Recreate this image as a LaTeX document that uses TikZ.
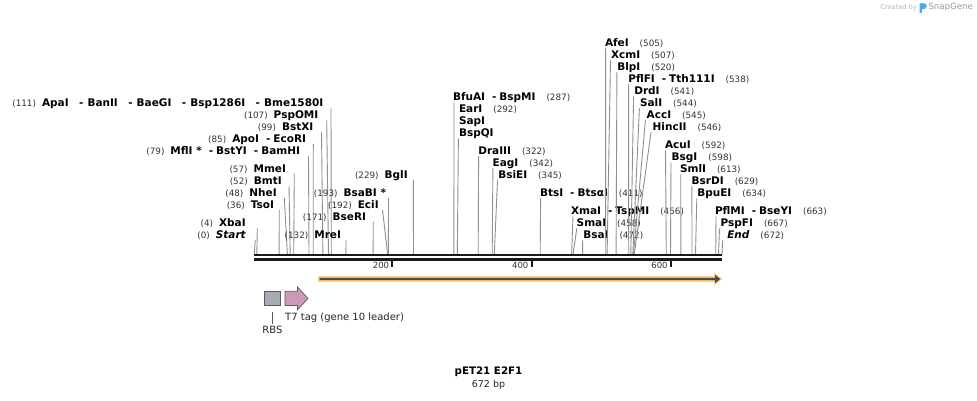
\documentclass[tikz,border=0pt]{standalone}
\usepackage{fontspec}
\setmainfont{DejaVu Sans}
\usetikzlibrary{arrows.meta}
\definecolor{numc}{HTML}{333333}
\definecolor{sitec}{HTML}{8F8F8F}
\definecolor{bbc}{HTML}{1A1A1A}
\definecolor{orfo}{HTML}{FAD17E}
\definecolor{orfd}{HTML}{4A4A4A}
\definecolor{rbsc}{HTML}{A6ABB1}
\definecolor{t7c}{HTML}{CC9AB8}
\definecolor{featline}{HTML}{5A5A5A}
\definecolor{wmgray}{HTML}{B4B4B4}
\definecolor{wmblue}{HTML}{45A8F0}

\newcommand{\nmf}{\fontsize{10.5}{12}\selectfont\bfseries}
\newcommand{\nuf}{\fontsize{8.8}{10}\selectfont\mdseries\color{numc}}
\newcommand{\Nm}[1]{{\nmf #1}}
\newcommand{\Nu}[1]{{\nuf #1}}
\newcommand{\Sp}{{\nmf\hspace{7pt}-\hspace{3pt}}}
\newcommand{\Sw}{{\nmf\hspace{10.5pt}-\hspace{4pt}}}
\newcommand{\Gp}{\hspace{11pt}}
\newcommand{\Gl}{\hspace{6pt}}

% id, y, x of text edge, x of line top, x of site, text
\newcommand{\LeftLab}[6]{%
  \node[lbl,anchor=east] (#1) at (#3,#2) {#6};
  \coordinate (#1-t) at (#4,{#2+5.5});
  \coordinate (#1-s) at (#5,254.5);
  \draw[siteline] (#1-t) -- (#1-s);
}
\newcommand{\RightLab}[6]{%
  \node[lbl,anchor=west] (#1) at (#3,#2) {#6};
  \coordinate (#1-t) at (#4,{#2+6});
  \coordinate (#1-s) at (#5,254.5);
  \draw[siteline] (#1-t) -- (#1-s);
}

\begin{document}
\begin{tikzpicture}[x=1pt,y=-1pt,
  lbl/.style={inner sep=0pt,outer sep=0pt,text height=7.6pt,text depth=0pt},
  siteline/.style={draw=sitec,line width=0.9pt},
  bbline/.style={draw=bbc,line width=2.4pt},
  tickmark/.style={draw=bbc,line width=2pt},
  ticklab/.style={inner sep=0pt,font=\fontsize{8.5}{10}\selectfont,text=numc},
  featlab/.style={inner sep=0pt,font=\fontsize{10}{12}\selectfont,text=black!85},
]
\fill[white] (0,0) rectangle (977,400);
\useasboundingbox (0,0) rectangle (977,400);

% backbone
\coordinate (bbL1) at (254,255);
\coordinate (bbR1) at (722,255);
\coordinate (bbL2) at (254,259.6);
\coordinate (bbR2) at (722,259.6);

% left-side labels
\LeftLab{apa}{102.3}{323.3}{331}{331.3}{\Nu{(111)}\Gl\Nm{ApaI}\Sw\Nm{BanII}\Sw\Nm{BaeGI}\Sw\Nm{Bsp1286I}\Sw\Nm{Bme1580I}}
\LeftLab{psp}{114.3}{318.3}{326.7}{328.5}{\Nu{(107)}\Gl\Nm{PspOMI}}
\LeftLab{bstx}{126.3}{313.3}{321.5}{322.9}{\Nu{(99)}\Gl\Nm{BstXI}}
\LeftLab{apo}{138.3}{306}{313.3}{313.2}{\Nu{(85)}\Gl\Nm{ApoI}\Sp\Nm{EcoRI}}
\LeftLab{mfl}{150.3}{300}{308.5}{309.0}{\Nu{(79)}\Gl\Nm{MflI *}\Sp\Nm{BstYI}\Sp\Nm{BamHI}}
\LeftLab{mme}{168.3}{286}{294.3}{293.7}{\Nu{(57)}\Gl\Nm{MmeI}}
\LeftLab{bmt}{180.3}{281.7}{289}{290.2}{\Nu{(52)}\Gl\Nm{BmtI}}
\LeftLab{nhe}{192.3}{276.7}{284.3}{287.4}{\Nu{(48)}\Gl\Nm{NheI}}
\LeftLab{tso}{204.3}{274}{279.3}{279.1}{\Nu{(36)}\Gl\Nm{TsoI}}
\LeftLab{xba}{222.3}{245.7}{257.3}{256.8}{\Nu{(4)}\Gl\Nm{XbaI}}
\LeftLab{start}{234.3}{245.7}{255.3}{254.2}{\Nu{(0)}\Gl\Nm{\itshape Start}}
\LeftLab{mre}{234.3}{341}{346}{345.9}{\Nu{(132)}\Gl\Nm{MreI}}
\LeftLab{bser}{216.3}{366}{373.3}{373.1}{\Nu{(171)}\Gl\Nm{BseRI}}
\LeftLab{eci}{204.3}{378.7}{382.5}{387.7}{\Nu{(192)}\Gl\Nm{EciI}}
\LeftLab{bsab}{192.3}{386}{388.5}{388.4}{\Nu{(193)}\Gl\Nm{BsaBI *}}
\LeftLab{bgl}{174.3}{407.7}{413.3}{413.5}{\Nu{(229)}\Gl\Nm{BglI}}

% right-side labels
\RightLab{bfu}{96.3}{453}{454}{453.9}{\Nm{BfuAI}\Sp\Nm{BspMI}\Gp\Nu{(287)}}
\node[lbl,anchor=west] (ear) at (459,108.3) {\Nm{EarI}\Gp\Nu{(292)}};
\node[lbl,anchor=west] (sap) at (459,120.3) {\Nm{SapI}};
\node[lbl,anchor=west] (bspq) at (459,132.3) {\Nm{BspQI}};
\coordinate (bspq-t) at (458.4,138.3);
\coordinate (bspq-s) at (457.3,254.5);
\draw[siteline] (bspq-t) -- (bspq-s);
\RightLab{dra}{150.3}{478.3}{478.6}{478.2}{\Nm{DraIII}\Gp\Nu{(322)}}
\RightLab{eag}{162.3}{492.7}{492.9}{492.2}{\Nm{EagI}\Gp\Nu{(342)}}
\RightLab{bsie}{174.3}{498.3}{497.5}{494.3}{\Nm{BsiEI}\Gp\Nu{(345)}}
\RightLab{bts}{192.3}{540}{540.6}{540.2}{\Nm{BtsI}\Sp\Nm{BtsαI}\Gp\Nu{(411)}}
\RightLab{xma}{210.3}{571}{573}{571.6}{\Nm{XmaI}\Sp\Nm{TspMI}\Gp\Nu{(456)}}
\RightLab{sma}{222.3}{576.7}{576.8}{573.0}{\Nm{SmaI}\Gp\Nu{(458)}}
\RightLab{bsa}{234.3}{583.3}{582.6}{582.7}{\Nm{BsaI}\Gp\Nu{(472)}}
\RightLab{afe}{42.3}{605}{605.6}{605.7}{\Nm{AfeI}\Gp\Nu{(505)}}
\RightLab{xcm}{54.3}{611}{610.5}{607.1}{\Nm{XcmI}\Gp\Nu{(507)}}
\RightLab{blp}{66.3}{617.3}{616.9}{616.1}{\Nm{BlpI}\Gp\Nu{(520)}}
\RightLab{pflf}{78.3}{628.3}{628.6}{628.7}{\Nm{PflFI}\Sp\Nm{Tth111I}\Gp\Nu{(538)}}
\RightLab{drd}{90.3}{634.3}{633.6}{630.8}{\Nm{DrdI}\Gp\Nu{(541)}}
\RightLab{sal}{102.3}{640}{639.4}{632.8}{\Nm{SalI}\Gp\Nu{(544)}}
\RightLab{acc}{114.3}{646.7}{645.4}{633.5}{\Nm{AccI}\Gp\Nu{(545)}}
\RightLab{hinc}{126.3}{652.7}{651}{634.2}{\Nm{HincII}\Gp\Nu{(546)}}
\RightLab{acu}{144.3}{665}{665.5}{666.3}{\Nm{AcuI}\Gp\Nu{(592)}}
\RightLab{bsg}{156.3}{671.7}{671}{670.5}{\Nm{BsgI}\Gp\Nu{(598)}}
\RightLab{sml}{168.3}{680}{680.7}{680.9}{\Nm{SmlI}\Gp\Nu{(613)}}
\RightLab{bsrd}{180.3}{691.7}{691.9}{692.0}{\Nm{BsrDI}\Gp\Nu{(629)}}
\RightLab{bpue}{192.3}{697.3}{696.8}{695.5}{\Nm{BpuEI}\Gp\Nu{(634)}}
\RightLab{pflm}{210.3}{715}{716}{715.7}{\Nm{PflMI}\Sp\Nm{BseYI}\Gp\Nu{(663)}}
\RightLab{pspf}{222.3}{720.7}{719.5}{718.5}{\Nm{PspFI}\Gp\Nu{(667)}}
\RightLab{endl}{234.3}{727.3}{722.6}{722.0}{\Nm{\itshape End}\Gp\Nu{(672)}}

% backbone drawn over line ends
\draw[bbline] (bbL1) -- (bbR1);
\draw[bbline] (bbL2) -- (bbR2);

% ticks
\coordinate (t200a) at (392.3,260.5); \coordinate (t200b) at (392.3,266.5);
\coordinate (t400a) at (531.6,260.5); \coordinate (t400b) at (531.6,266.5);
\coordinate (t600a) at (670.8,260.5); \coordinate (t600b) at (670.8,266.5);
\draw[tickmark] (t200a) -- (t200b);
\draw[tickmark] (t400a) -- (t400b);
\draw[tickmark] (t600a) -- (t600b);
\node[ticklab,anchor=east] (l200) at (389.3,265.5) {200};
\node[ticklab,anchor=east] (l400) at (528.6,265.5) {400};
\node[ticklab,anchor=east] (l600) at (667.8,265.5) {600};

% ORF arrow
\coordinate (orfS) at (318,279);
\coordinate (orfE) at (722.5,279);
\fill[orfo] (318,276) -- (714,276) -- (714,272.8) -- (orfE) -- (714,285.2) -- (714,282) -- (318,282) -- cycle;
\fill[orfd] (319.5,277.9) -- (715,277.9) -- (715,274.8) -- (720.3,279) -- (715,283.2) -- (715,280.1) -- (319.5,280.1) -- cycle;

% features
\node[draw=featline,fill=rbsc,line width=0.7pt,minimum width=16.5pt,minimum height=14.6pt,inner sep=0pt] (rbs) at (272.4,298.4) {};
\node[featlab] (rbslab) at (272.4,330.3) {RBS};
\coordinate (rbsline) at (272.4,312);
\draw[draw=featline,line width=0.6pt] (rbsline) -- ([yshift=2.5pt]rbslab.north);
\draw[draw=featline,fill=t7c,line width=0.7pt] (285,291.3) -- (297.5,291.3) -- (297.5,287) -- (308,298.4) -- (297.5,309.8) -- (297.5,305.5) -- (285,305.5) -- cycle;
\node[featlab,anchor=west] (t7lab) at (285,317.7) {T7 tag (gene 10 leader)};

% title
\node[inner sep=0pt,font=\fontsize{10.3}{12}\selectfont\bfseries] (title) at (488.5,372) {pET21 E2F1};
\node[inner sep=0pt,font=\fontsize{9.5}{11}\selectfont,text=black!85] (len) at (488.5,384.5) {672 bp};

% watermark
\node[inner sep=0pt,anchor=east,font=\fontsize{6.6}{8}\selectfont,text=wmgray] (wm1) at (917,7.5) {Created by};
\fill[wmblue] (919.5,13.2) -- (919.5,3.6) .. controls (923,2.6) and (926.8,3.2) .. (926.8,6.2) .. controls (926.8,8.6) and (924,9.3) .. (921.8,9.4) -- (921.8,12.6) -- cycle;
\node[inner sep=0pt,anchor=west,font=\fontsize{8.6}{10}\selectfont,text=wmgray!85!black] (wm2) at (928.3,7.5) {SnapGene};
\end{tikzpicture}
\end{document}
